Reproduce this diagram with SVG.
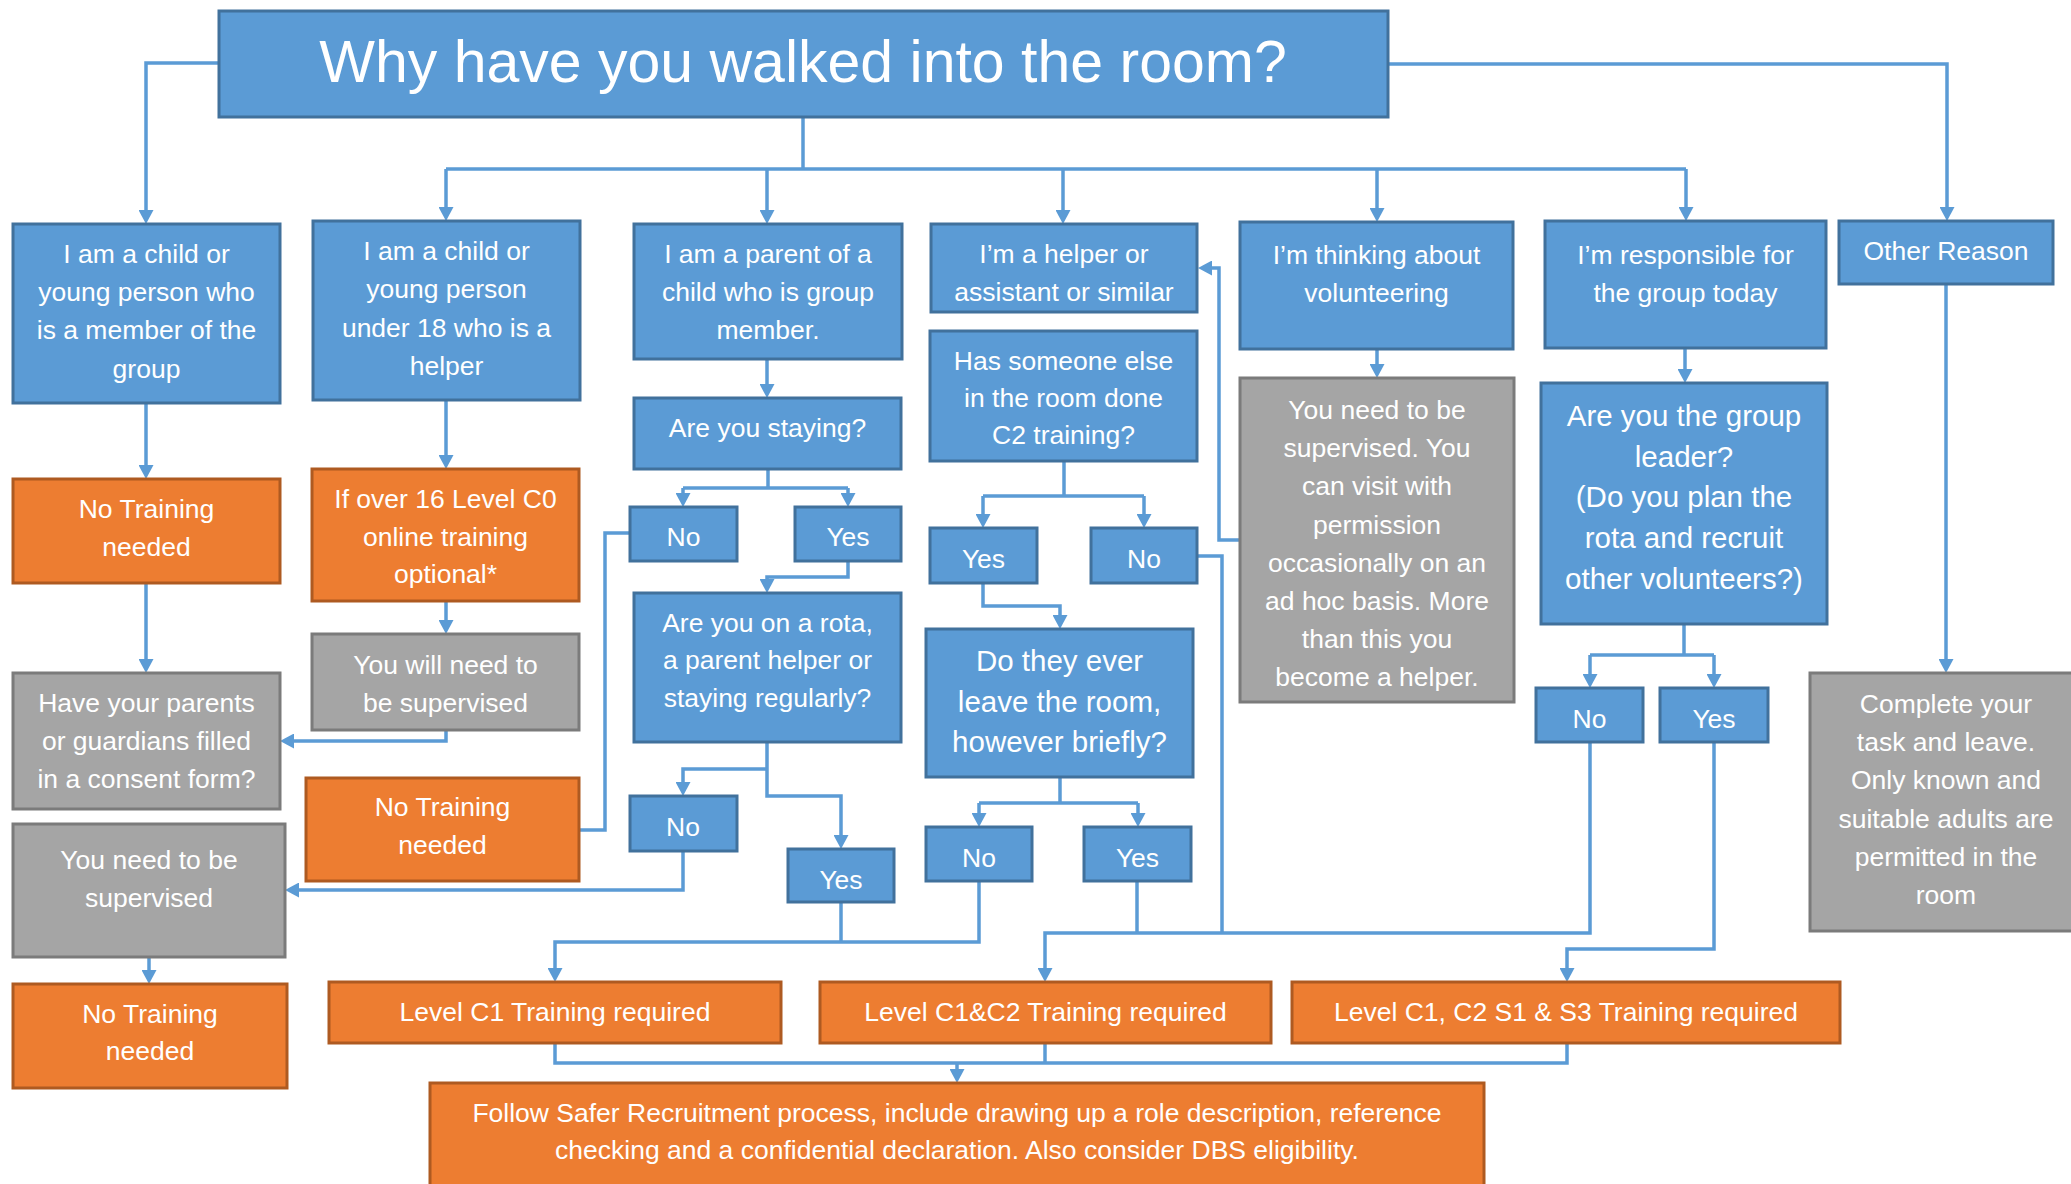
<svg xmlns="http://www.w3.org/2000/svg" width="2071" height="1184" viewBox="0 0 2071 1184">
<defs>
<style>
.blue{fill:#5B9BD5;stroke:#41719C;stroke-width:3}
.orange{fill:#ED7D31;stroke:#AE5A21;stroke-width:3}
.gray{fill:#A5A5A5;stroke:#7B7B7B;stroke-width:3}
text{font-family:"Liberation Sans",Arial,sans-serif;font-size:26.5px;fill:#FFFFFF;text-anchor:middle}
.big{font-size:29.5px}
.title{font-size:59px}
.c{fill:none;stroke:#5B9BD5;stroke-width:3.5;stroke-linejoin:miter}
</style>
<marker id="ah" viewBox="0 0 14 15" refX="4" refY="7.5" markerWidth="14" markerHeight="15" markerUnits="userSpaceOnUse" orient="auto">
<path d="M0,0 L14,7.5 L0,15 z" fill="#5B9BD5"/>
</marker>
</defs>
<rect width="2071" height="1184" fill="#FFFFFF"/>

<g id="connectors">
<path class="c" d="M219,63 H146 V214" marker-end="url(#ah)"/>
<path class="c" d="M1388,64 H1947 V211" marker-end="url(#ah)"/>
<path class="c" d="M803,117 V169"/>
<path class="c" d="M446,169 H1686"/>
<path class="c" d="M446,169 V211" marker-end="url(#ah)"/>
<path class="c" d="M767,169 V214" marker-end="url(#ah)"/>
<path class="c" d="M1063,169 V214" marker-end="url(#ah)"/>
<path class="c" d="M1377,169 V212" marker-end="url(#ah)"/>
<path class="c" d="M1686,169 V211" marker-end="url(#ah)"/>
<path class="c" d="M146,403 V469" marker-end="url(#ah)"/>
<path class="c" d="M146,583 V663" marker-end="url(#ah)"/>
<path class="c" d="M446,400 V459" marker-end="url(#ah)"/>
<path class="c" d="M446,601 V624" marker-end="url(#ah)"/>
<path class="c" d="M446,730 V741 H290" marker-end="url(#ah)"/>
<path class="c" d="M767,359 V388" marker-end="url(#ah)"/>
<path class="c" d="M768,469 V488"/>
<path class="c" d="M683,488 H848"/>
<path class="c" d="M683,488 V497" marker-end="url(#ah)"/>
<path class="c" d="M848,488 V497" marker-end="url(#ah)"/>
<path class="c" d="M848,561 V577 H767 V583" marker-end="url(#ah)"/>
<path class="c" d="M630,533 H605 V830 H579"/>
<path class="c" d="M767,742 V796 H841 V839" marker-end="url(#ah)"/>
<path class="c" d="M767,769 H683 V786" marker-end="url(#ah)"/>
<path class="c" d="M683,851 V890 H295" marker-end="url(#ah)"/>
<path class="c" d="M841,902 V942"/>
<path class="c" d="M979,881 V942 H555 V972" marker-end="url(#ah)"/>
<path class="c" d="M149,957 V974" marker-end="url(#ah)"/>
<path class="c" d="M1064,461 V496"/>
<path class="c" d="M983,496 H1144"/>
<path class="c" d="M983,496 V518" marker-end="url(#ah)"/>
<path class="c" d="M1144,496 V518" marker-end="url(#ah)"/>
<path class="c" d="M983,583 V606 H1060 V619" marker-end="url(#ah)"/>
<path class="c" d="M1060,777 V803"/>
<path class="c" d="M979,803 H1138"/>
<path class="c" d="M979,803 V817" marker-end="url(#ah)"/>
<path class="c" d="M1138,803 V817" marker-end="url(#ah)"/>
<path class="c" d="M1197,556 H1222 V933"/>
<path class="c" d="M1137,881 V933"/>
<path class="c" d="M1590,742 V933 H1045 V972" marker-end="url(#ah)"/>
<path class="c" d="M1240,540 H1219 V268 H1208" marker-end="url(#ah)"/>
<path class="c" d="M1377,349 V368" marker-end="url(#ah)"/>
<path class="c" d="M1685,348 V373" marker-end="url(#ah)"/>
<path class="c" d="M1684,624 V655"/>
<path class="c" d="M1590,655 H1714"/>
<path class="c" d="M1590,655 V678" marker-end="url(#ah)"/>
<path class="c" d="M1714,655 V678" marker-end="url(#ah)"/>
<path class="c" d="M1714,742 V949 H1567 V972" marker-end="url(#ah)"/>
<path class="c" d="M1946,284 V663" marker-end="url(#ah)"/>
<path class="c" d="M555,1043 V1063 H1567 V1043"/>
<path class="c" d="M1045,1043 V1063"/>
<path class="c" d="M957,1063 V1073" marker-end="url(#ah)"/>
</g>

<g id="title"><rect class="blue" x="219" y="11" width="1169" height="106"/><text class="title" x="803" y="82">Why have you walked into the room?</text></g>

<g id="child-member"><rect class="blue" x="13" y="224" width="267" height="179"/>
<text x="146.5" y="262.6">I am a child or</text><text x="146.5" y="301">young person who</text><text x="146.5" y="339">is a member of the</text><text x="146.5" y="377.5">group</text></g>

<g id="child-helper"><rect class="blue" x="313" y="221" width="267" height="179"/>
<text x="446.5" y="260">I am a child or</text><text x="446.5" y="298">young person</text><text x="446.5" y="336.6">under 18 who is a</text><text x="446.5" y="375">helper</text></g>

<g id="parent"><rect class="blue" x="634" y="224" width="268" height="135"/>
<text x="768" y="262.6">I am a parent of a</text><text x="768" y="301">child who is group</text><text x="768" y="339">member.</text></g>

<g id="helper"><rect class="blue" x="931" y="224" width="266" height="88"/>
<text x="1064" y="262.6">I’m a helper or</text><text x="1064" y="301">assistant or similar</text></g>

<g id="volunteering"><rect class="blue" x="1240" y="222" width="273" height="127"/>
<text x="1376.5" y="264">I’m thinking about</text><text x="1376.5" y="302">volunteering</text></g>

<g id="responsible"><rect class="blue" x="1545" y="221" width="281" height="127"/>
<text x="1685.5" y="264">I’m responsible for</text><text x="1685.5" y="302">the group today</text></g>

<g id="other-reason"><rect class="blue" x="1839" y="221" width="214" height="63"/>
<text x="1946" y="260">Other Reason</text></g>

<g id="no-training-1"><rect class="orange" x="13" y="479" width="267" height="104"/>
<text x="146.5" y="518.3">No Training</text><text x="146.5" y="555.7">needed</text></g>

<g id="consent"><rect class="gray" x="13" y="673" width="267" height="136"/>
<text x="146.5" y="711.7">Have your parents</text><text x="146.5" y="750">or guardians filled</text><text x="146.5" y="788.3">in a consent form?</text></g>

<g id="over-16"><rect class="orange" x="312" y="469" width="267" height="132"/>
<text x="445.5" y="507.7">If over 16 Level C0</text><text x="445.5" y="546">online training</text><text x="445.5" y="583">optional*</text></g>

<g id="will-supervise"><rect class="gray" x="312" y="634" width="267" height="96"/>
<text x="445.5" y="674">You will need to</text><text x="445.5" y="711.7">be supervised</text></g>

<g id="no-training-2"><rect class="orange" x="306" y="778" width="273" height="103"/>
<text x="442.5" y="816">No Training</text><text x="442.5" y="854">needed</text></g>

<g id="need-supervise"><rect class="gray" x="13" y="824" width="272" height="133"/>
<text x="149" y="869">You need to be</text><text x="149" y="907">supervised</text></g>

<g id="no-training-3"><rect class="orange" x="13" y="984" width="274" height="104"/>
<text x="150" y="1023">No Training</text><text x="150" y="1060">needed</text></g>

<g id="staying"><rect class="blue" x="634" y="398" width="267" height="71"/>
<text x="767.5" y="437">Are you staying?</text></g>
<g id="staying-no"><rect class="blue" x="630" y="507" width="107" height="54"/><text x="683.5" y="545.7">No</text></g>
<g id="staying-yes"><rect class="blue" x="795" y="507" width="106" height="54"/><text x="848" y="545.7">Yes</text></g>

<g id="rota"><rect class="blue" x="634" y="593" width="267" height="149"/>
<text x="767.5" y="632">Are you on a rota,</text><text x="767.5" y="669">a parent helper or</text><text x="767.5" y="706.7">staying regularly?</text></g>
<g id="rota-no"><rect class="blue" x="630" y="796" width="107" height="55"/><text x="683" y="836">No</text></g>
<g id="rota-yes"><rect class="blue" x="788" y="849" width="106" height="53"/><text x="841" y="889">Yes</text></g>

<g id="has-c2"><rect class="blue" x="930" y="331" width="267" height="130"/>
<text x="1063.5" y="369.6">Has someone else</text><text x="1063.5" y="406.6">in the room done</text><text x="1063.5" y="443.5">C2 training?</text></g>
<g id="has-yes"><rect class="blue" x="930" y="528" width="107" height="55"/><text x="983.5" y="567.7">Yes</text></g>
<g id="has-no"><rect class="blue" x="1091" y="528" width="106" height="55"/><text x="1144" y="567.7">No</text></g>

<g id="leave-room"><rect class="blue" x="926" y="629" width="267" height="148"/>
<text class="big" x="1059.5" y="670.7">Do they ever</text><text class="big" x="1059.5" y="711.7">leave the room,</text><text class="big" x="1059.5" y="751.7">however briefly?</text></g>
<g id="leave-no"><rect class="blue" x="926" y="827" width="106" height="54"/><text x="979" y="866.7">No</text></g>
<g id="leave-yes"><rect class="blue" x="1084" y="827" width="107" height="54"/><text x="1137.5" y="866.7">Yes</text></g>

<g id="volunteer-info"><rect class="gray" x="1240" y="378" width="274" height="324"/>
<text x="1377" y="418.9">You need to be</text><text x="1377" y="457">supervised. You</text><text x="1377" y="495.3">can visit with</text><text x="1377" y="533.5">permission</text><text x="1377" y="571.7">occasionally on an</text><text x="1377" y="609.9">ad hoc basis. More</text><text x="1377" y="648.1">than this you</text><text x="1377" y="686.3">become a helper.</text></g>

<g id="leader"><rect class="blue" x="1541" y="383" width="286" height="241"/>
<text class="big" x="1684" y="425.8">Are you the group</text><text class="big" x="1684" y="466.6">leader?</text><text class="big" x="1684" y="507.4">(Do you plan the</text><text class="big" x="1684" y="548.2">rota and recruit</text><text class="big" x="1684" y="589">other volunteers?)</text></g>
<g id="leader-no"><rect class="blue" x="1536" y="688" width="107" height="54"/><text x="1589.5" y="728">No</text></g>
<g id="leader-yes"><rect class="blue" x="1660" y="688" width="108" height="54"/><text x="1714" y="728">Yes</text></g>

<g id="complete-task"><rect class="gray" x="1810" y="673" width="272" height="258"/>
<text x="1946" y="712.8">Complete your</text><text x="1946" y="751">task and leave.</text><text x="1946" y="789.3">Only known and</text><text x="1946" y="827.6">suitable adults are</text><text x="1946" y="865.9">permitted in the</text><text x="1946" y="904.2">room</text></g>

<g id="level-c1"><rect class="orange" x="329" y="982" width="452" height="61"/>
<text x="555" y="1020.7">Level C1 Training required</text></g>
<g id="level-c1c2"><rect class="orange" x="820" y="982" width="451" height="61"/>
<text x="1045.5" y="1020.7">Level C1&amp;C2 Training required</text></g>
<g id="level-c1c2s1s3"><rect class="orange" x="1292" y="982" width="548" height="61"/>
<text x="1566" y="1020.7">Level C1, C2 S1 &amp; S3 Training required</text></g>

<g id="safer-recruitment"><rect class="orange" x="430" y="1083" width="1054" height="120"/>
<text x="957" y="1121.7">Follow Safer Recruitment process, include drawing up a role description, reference</text>
<text x="957" y="1159">checking and a confidential declaration. Also consider DBS eligibility.</text></g>
</svg>
